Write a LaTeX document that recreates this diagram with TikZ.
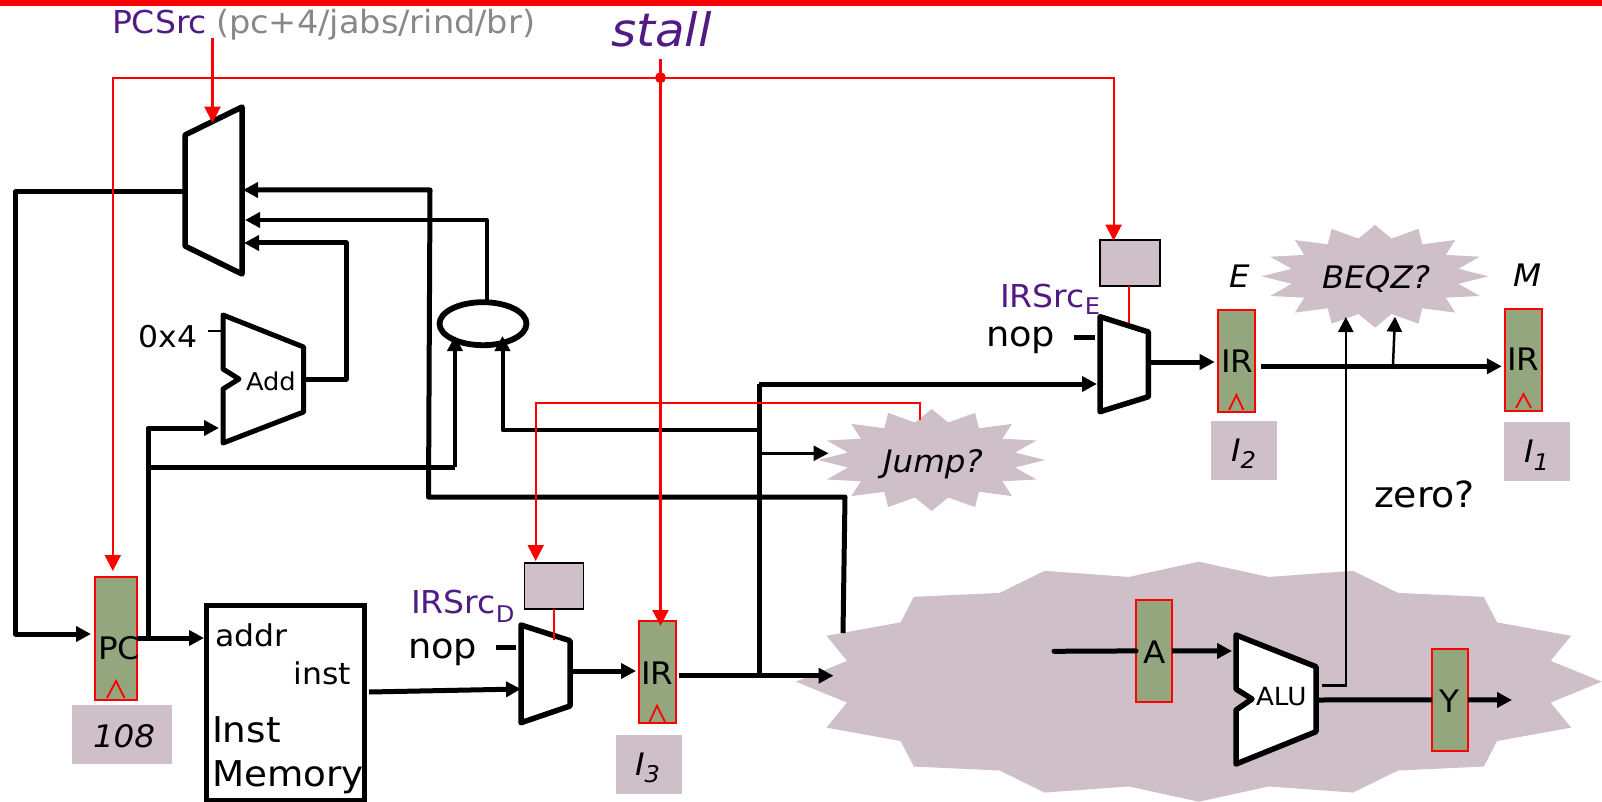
\documentclass[tikz,border=0pt]{standalone}
\usepackage{fontspec}
\setmainfont{DejaVu Sans}[FakeStretch=1.05]
\usetikzlibrary{arrows.meta}
\definecolor{burstcol}{HTML}{CFBFC9}
\definecolor{regcol}{HTML}{93A67D}
\definecolor{ctlpurple}{HTML}{501B82}
\definecolor{hintgray}{HTML}{888888}
\newcommand{\fs}[1]{\fontsize{#1}{#1}\selectfont}
\newcommand{\burst}[5]{\fill[burstcol] plot[samples at={0,1,...,31},variable=\k]
  ({#1+(isodd(\k)?#5:1)*#3*cos(\k*11.25)},{#2+(isodd(\k)?#5:1)*#4*sin(\k*11.25)}) -- cycle;}
\tikzset{
  x=1pt,y=-1pt,
  txt/.style={anchor=base west,inner sep=0pt,outer sep=0pt,text=black,font=\fs{31}},
  itxt/.style={txt,font=\fs{31}\itshape},
  ctl/.style={txt,text=ctlpurple,font=\fs{31.5}},
  regbox/.style={draw=red,line width=2pt,fill=regcol,inner sep=0pt,outer sep=0pt},
  valbox/.style={fill=burstcol,inner sep=0pt,outer sep=0pt},
  ctlbox/.style={draw=black,line width=1.5pt,fill=burstcol,inner sep=0pt,outer sep=0pt},
  unit/.style={draw=black,line width=5.5pt,line join=round,fill=white},
  wire/.style={draw=black,line width=5pt,line join=round},
  wiremid/.style={draw=black,line width=4pt,line join=round},
  wirethin/.style={draw=black,line width=2.5pt},
  arr/.style={-{Triangle[length=15pt,width=15pt]}},
  redwire/.style={draw=red,line width=2.2pt},
  redarr/.style={redwire,-{Triangle[length=16pt,width=16pt]}},
  clk/.style={draw=red,line width=1.8pt},
}
\begin{document}
\begin{tikzpicture}
\useasboundingbox (0,0) rectangle (1602,802);
\fill[red] (0,0) rectangle (1602,6);
% bursts
\burst{1198.8}{681.7}{403}{120}{0.89}
\burst{931.6}{460}{113.5}{51}{0.75}
\burst{1375}{276.3}{113.4}{51.3}{0.75}
\node[txt,font=\fs{31}\itshape] (jumplbl) at (883,472.7) {Jump?};
\node[txt,font=\fs{31}\itshape] (beqzlbl) at (1322,288) {BEQZ?};
% named ports and elbows
\coordinate (pcmuxOut) at (185,192);
\coordinate (fbL) at (15.5,192);
\coordinate (pcIn) at (91,634);
\coordinate (pcOut) at (137,638);
\coordinate (pcUp) at (148,638);
\coordinate (imIn) at (204,638);
\coordinate (addIn) at (219,428);
\coordinate (pcUp2) at (148,467);
\coordinate (sumInL) at (455,467);
\coordinate (sumInLtip) at (455,336);
\coordinate (sumInR) at (502.5,430);
\coordinate (sumInRtip) at (502.5,336);
\coordinate (busMid) at (759,430);
\coordinate (busTop) at (759,384);
\coordinate (busBot) at (759,676);
\coordinate (muxEin) at (1097,384);
\coordinate (jumpFrom) at (759,453.3);
\coordinate (jumpTip) at (828.5,453.3);
\coordinate (irOut) at (678.6,675.7);
\coordinate (irTip) at (833.5,675.7);
\coordinate (regTopA) at (430,190);
\coordinate (pcmuxInA) at (243,190);
\coordinate (regCorner) at (428.5,497);
\coordinate (regCorner2) at (845,497);
\coordinate (regEnd) at (843,633);
\coordinate (pcmuxInB) at (245,220);
\coordinate (sumTopElbow) at (486.5,220);
\coordinate (sumTop) at (486.5,302);
\coordinate (pcmuxInC) at (244,243);
\coordinate (addElbowTop) at (346,243);
\coordinate (addElbowBot) at (346,379);
\coordinate (addOut) at (305,379);
% units
\draw[unit] (185,135) -- (242,107) -- (242,274) -- (185,246) -- cycle;
\draw[unit,line width=5pt] (223,315) -- (303.6,347) -- (303.6,412) -- (223,443) -- (223,389) -- (239,379) -- (223,369) -- cycle;
\node[txt,font=\fs{24.5}] (addlbl) at (246,390) {Add};
\node[txt,font=\fs{30}] (zerox) at (138.6,347) {0x4};
\coordinate (c4a) at (208,331); \coordinate (c4b) at (223,331);
\draw[wirethin] (c4a) -- (c4b);
\draw[draw=black,line width=5.8pt] (483,323.7) ellipse [x radius=43.5,y radius=21.5];
\draw[unit] (521,625) -- (570,640.7) -- (570,706) -- (521,722.7) -- cycle;
\draw[unit] (1100,316.7) -- (1148.4,332) -- (1148.4,396.7) -- (1100,411.7) -- cycle;
\draw[unit,line width=5.5pt] (1236,635) -- (1316,666.7) -- (1316,731.7) -- (1236,764) -- (1236,710) -- (1252,699) -- (1236,689) -- cycle;
\node[txt,font=\fs{25}] (alulbl) at (1256,705) {ALU};
% memory
\node[draw=black,line width=5pt,fill=white,minimum width=157.4pt,minimum height=194.3pt,inner sep=0pt,outer sep=0pt] (imem) at (285.3,702.9) {};
\node[txt,font=\fs{30}] (addrlbl) at (215,646) {addr};
\node[txt,font=\fs{30}] (instlbl) at (293.4,684) {inst};
\node[txt,font=\fs{35.5}] (instm) at (212,742) {Inst};
\node[txt,font=\fs{35.5}] (memm) at (212,786) {Memory};
% registers
\node[regbox,minimum width=42pt,minimum height=123pt] (pc) at (116,638.5) {};
\node[regbox,minimum width=37pt,minimum height=102.3pt] (irD) at (657.5,671.9) {};
\node[regbox,minimum width=36.6pt,minimum height=102pt] (irE) at (1236.7,361) {};
\node[regbox,minimum width=36.5pt,minimum height=101.7pt] (irM) at (1523.7,359.9) {};
\node[regbox,minimum width=36pt,minimum height=101.7pt] (regA) at (1154,650.9) {};
\node[regbox,minimum width=36pt,minimum height=101.7pt] (regY) at (1450,699.9) {};
\node[txt] (pclbl) at (98,659) {PC};
\node[txt] (irDlbl) at (641,684) {IR};
\node[txt] (irElbl) at (1221,372) {IR};
\node[txt] (irMlbl) at (1507,370.7) {IR};
\node[txt] (alblb) at (1143,663) {A};
\node[txt] (ylbl) at (1439,712) {Y};
\draw[clk] (107,698) -- (116,681) -- (124.5,698);
\draw[clk] (649.5,722) -- (657,705.7) -- (665,722);
\draw[clk] (1229,410) -- (1236.4,395) -- (1243.4,410);
\draw[clk] (1516,408) -- (1523.5,394) -- (1531,408);
% value boxes
\node[valbox,minimum width=100pt,minimum height=59pt] (v108) at (122,734.5) {};
\node[valbox,minimum width=66pt,minimum height=59pt] (v3) at (649,764.5) {};
\node[valbox,minimum width=66pt,minimum height=59pt] (v2) at (1244,450.5) {};
\node[valbox,minimum width=66pt,minimum height=59pt] (v1) at (1537,451.5) {};
\node[itxt] (t108) at (93,747) {108};
\node[itxt] (t3) at (635,775.7) {I\raisebox{-7pt}{\fs{23}3}};
\node[itxt] (t2) at (1231,461.7) {I\raisebox{-7pt}{\fs{23}2}};
\node[itxt] (t1) at (1524,462) {I\raisebox{-8pt}{\fs{23}1}};
\node[itxt] (tE) at (1229,287.3) {E};
\node[itxt] (tM) at (1513,286) {M};
% control boxes
\node[ctlbox,minimum width=59.2pt,minimum height=46.3pt] (ctlD) at (554.1,585.9) {};
\node[ctlbox,minimum width=60pt,minimum height=46pt] (ctlE) at (1130,263) {};
% text
\node[ctl] (pcsrc) at (112,33.3) {PCSrc};
\node[txt,text=hintgray,font=\fs{32}] (pcsrch) at (216,33.3) {(pc+4/jabs/rind/br)};
\node[txt,text=ctlpurple,font=\fs{46}\itshape] (stalllbl) at (611,47) {stall};
\node[ctl] (srcD) at (411,613) {IRSrc\raisebox{-9pt}{\fs{23}D}};
\node[ctl] (srcE) at (1000,307.3) {IRSrc\raisebox{-7pt}{\fs{23}E}};
\node[txt,font=\fs{35}] (nopD) at (408,658) {nop};
\node[txt,font=\fs{35}] (nopE) at (986,346.7) {nop};
\node[txt,font=\fs{36}] (zerolbl) at (1374,507.3) {zero?};
% black wires
\draw[wire,arr] (pcmuxOut) -- (fbL) |- (pcIn);
\draw[wire,arr] (pcOut) -- (imIn);
\draw[wire,arr] (pcUp) |- (addIn);
\draw[wire] (pcUp2) -- (sumInL);
\draw[wiremid,arr] (sumInL) -- (sumInLtip);
\draw[wiremid,arr] (busMid) -| (sumInRtip);
\draw[wire,arr] (regEnd) -- (regCorner2) -- (regCorner) -- (regTopA) -- (pcmuxInA);
\draw[wiremid,arr] (sumTop) -- (sumTopElbow) -- (pcmuxInB);
\draw[wire,arr] (addOut) -- (addElbowBot) -- (addElbowTop) -- (pcmuxInC);
\coordinate (tickDa) at (496,647); \coordinate (tickDb) at (516,647);
\coordinate (tickEa) at (1074,337.7); \coordinate (tickEb) at (1095,337.7);
\draw[wire] (tickDa) -- (tickDb);
\draw[wire] (tickEa) -- (tickEb);
\coordinate (imOut) at (369,692); \coordinate (muxDin) at (521,689);
\draw[wire,arr] (imOut) -- (muxDin);
\coordinate (muxDout) at (570,671);
\coordinate (irDin) at (636,671);
\draw[wire,arr] (muxDout) -- (irDin);
\draw[wire,arr] (irOut) -- (irTip);
\draw[wire] (busBot) -- (busTop);
\draw[wire,arr] (busTop) -- (muxEin);
\draw[wirethin,arr] (jumpFrom) -- (jumpTip);
\coordinate (muxEout) at (1148.4,362);
\coordinate (irEin) at (1214.7,362);
\draw[wire,arr] (muxEout) -- (irEin);
\coordinate (irEout) at (1261.4,366.3);
\coordinate (irMin) at (1501.8,366.3);
\draw[wire,arr] (irEout) -- (irMin);
\coordinate (tapBot) at (1392.8,369);
\coordinate (tapTop) at (1395,316.7);
\draw[wirethin,arr] (tapBot) -- (tapTop);
\coordinate (aStart) at (1054,651.3);
\draw[wire,line cap=round] (aStart) -- (regA.west);
\coordinate (aluIn) at (1232,651);
\draw[wire,arr] (regA.east) -- (aluIn);
\coordinate (aluZero) at (1321.5,685.7);
\coordinate (beqzIn) at (1345.8,317);
\draw[wirethin,arr] (aluZero) -| (beqzIn);
\coordinate (aluOut) at (1316,700);
\draw[wire] (aluOut) -- (regY.west);
\coordinate (yOut) at (1512,700);
\draw[wire,arr] (regY.east) -- (yOut);
% red wires
\coordinate (pcsrcTop) at (212.5,37.7);
\coordinate (pcsrcTip) at (212.5,122.7);
\draw[redarr] (pcsrcTop) -- (pcsrcTip);
\coordinate (stallTop) at (660.5,59);
\coordinate (stallTip) at (660.5,626);
\draw[redarr] (stallTop) -- (stallTip);
\coordinate (stallDot) at (660.5,77.7);
\fill[red] (stallDot) circle (5.5);
\coordinate (stallL) at (112.8,77.7);
\coordinate (stallR) at (1113.6,77.7);
\coordinate (pcTip) at (112.8,571);
\coordinate (ctlETip) at (1113.6,240.7);
\draw[redarr] (stallDot) -- (stallL) -- (pcTip);
\draw[redarr] (stallDot) -- (stallR) -- (ctlETip);
\coordinate (jumpOut) at (920,420);
\coordinate (jumpUp) at (920,403);
\coordinate (jumpL) at (535.7,403);
\coordinate (ctlDTip) at (535.7,561);
\draw[redarr] (jumpOut) -- (jumpUp) -- (jumpL) -- (ctlDTip);
\coordinate (muxDsel) at (553.6,640);
\coordinate (ctlDbot) at (553.6,609);
\draw[redwire] (ctlDbot) -- (muxDsel);
\coordinate (muxEsel) at (1128.7,323);
\coordinate (ctlEbot) at (1128.7,286);
\draw[redwire] (ctlEbot) -- (muxEsel);
\end{tikzpicture}
\end{document}
